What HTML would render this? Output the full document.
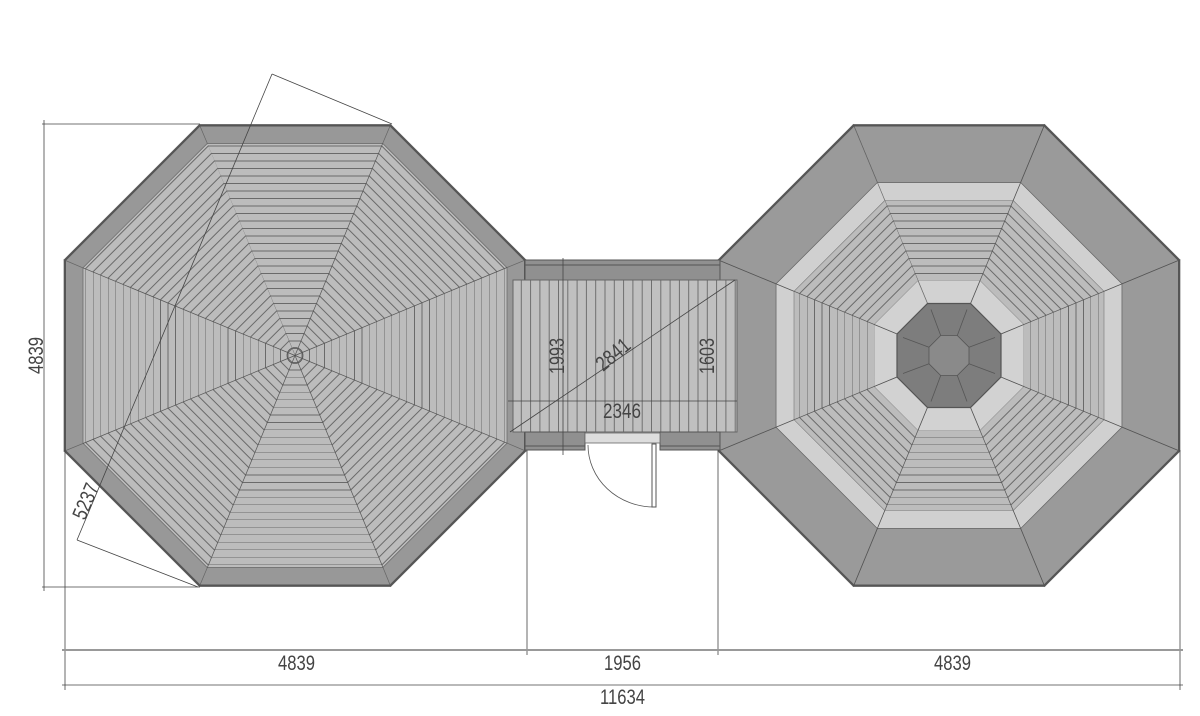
<!DOCTYPE html>
<html><head><meta charset="utf-8"><style>
html,body{margin:0;padding:0;background:#fff;}
svg{display:block;}
text{font-family:"Liberation Sans",sans-serif;fill:#444;font-size:21px;}
</style></head><body>
<svg width="1200" height="716" viewBox="0 0 1200 716" xmlns="http://www.w3.org/2000/svg">
<defs>
<pattern id="st" patternUnits="userSpaceOnUse" width="20" height="7.5">
<rect width="20" height="7.5" fill="#bcbcbc"/>
<line x1="0" y1="0.5" x2="20" y2="0.5" stroke="#6a6a6a" stroke-width="0.9"/>
</pattern>
<pattern id="vst" patternUnits="userSpaceOnUse" width="9.3" height="20">
<rect width="9.3" height="20" fill="#c0c0c0"/>
<line x1="0.5" y1="0" x2="0.5" y2="20" stroke="#666" stroke-width="0.9"/>
</pattern>
<g id="secL">
<polygon points="0,0 -88,-212 88,-212" fill="url(#st)"/>
<polygon points="-88,-212 88,-212 95.7,-231 -95.7,-231" fill="#989898" stroke="#666" stroke-width="0.7"/>
<line x1="-95.7" y1="-230" x2="95.7" y2="-230" stroke="#555" stroke-width="2"/>
<line x1="0" y1="0" x2="-88" y2="-212" stroke="#555" stroke-width="0.7"/>
</g>
<g id="secR">
<polygon points="-21.5,-52 21.5,-52 31,-75 -31,-75" fill="#d2d2d2" stroke="#777" stroke-width="0.6"/>
<polygon points="-31,-75 31,-75 64.2,-155 -64.2,-155" fill="url(#st)"/>
<polygon points="-64.2,-155 64.2,-155 71.7,-173 -71.7,-173" fill="#d0d0d0" stroke="#777" stroke-width="0.6"/>
<polygon points="-71.7,-173 71.7,-173 95.7,-231 -95.7,-231" fill="#9a9a9a" stroke="#666" stroke-width="0.7"/>
<line x1="-95.7" y1="-230" x2="95.7" y2="-230" stroke="#555" stroke-width="2"/>
<line x1="-21.5" y1="-52" x2="-95.7" y2="-231" stroke="#555" stroke-width="0.7"/>
</g>
</defs>

<g transform="translate(295,355.5)">
<use href="#secL"/>
<use href="#secL" transform="rotate(45)"/>
<use href="#secL" transform="rotate(90)"/>
<use href="#secL" transform="rotate(135)"/>
<use href="#secL" transform="rotate(180)"/>
<use href="#secL" transform="rotate(225)"/>
<use href="#secL" transform="rotate(270)"/>
<use href="#secL" transform="rotate(315)"/>
<circle r="8" fill="none" stroke="#555" stroke-width="0.8"/>
</g>

<g transform="translate(949,355.5)">
<use href="#secR"/>
<use href="#secR" transform="rotate(45)"/>
<use href="#secR" transform="rotate(90)"/>
<use href="#secR" transform="rotate(135)"/>
<use href="#secR" transform="rotate(180)"/>
<use href="#secR" transform="rotate(225)"/>
<use href="#secR" transform="rotate(270)"/>
<use href="#secR" transform="rotate(315)"/>
<polygon points="-21.5,-52 21.5,-52 52,-21.5 52,21.5 21.5,52 -21.5,52 -52,21.5 -52,-21.5" fill="#7d7d7d" stroke="#555" stroke-width="1.2"/>
<polygon points="-8.3,-20 8.3,-20 20,-8.3 20,8.3 8.3,20 -8.3,20 -20,8.3 -20,-8.3" fill="#8a8a8a" stroke="#555" stroke-width="0.8"/>
<g stroke="#555" stroke-width="0.8">
<line x1="-8.3" y1="-20" x2="-18" y2="-46"/><line x1="8.3" y1="-20" x2="18" y2="-46"/>
<line x1="20" y1="-8.3" x2="46" y2="-18"/><line x1="20" y1="8.3" x2="46" y2="18"/>
<line x1="8.3" y1="20" x2="18" y2="46"/><line x1="-8.3" y1="20" x2="-18" y2="46"/>
<line x1="-20" y1="8.3" x2="-46" y2="18"/><line x1="-20" y1="-8.3" x2="-46" y2="-18"/>
</g>
</g>

<rect x="525" y="260" width="195" height="20" fill="#909090" stroke="#555" stroke-width="1"/>
<line x1="525" y1="265" x2="720" y2="265" stroke="#555" stroke-width="1"/>
<rect x="513" y="280" width="224" height="152" fill="url(#vst)" stroke="#666" stroke-width="1"/>
<rect x="525" y="432" width="60" height="18" fill="#909090" stroke="#555" stroke-width="1"/>
<rect x="660" y="432" width="60" height="18" fill="#909090" stroke="#555" stroke-width="1"/>
<line x1="525" y1="446" x2="585" y2="446" stroke="#555"/><line x1="660" y1="446" x2="720" y2="446" stroke="#555"/>
<rect x="585" y="433" width="75" height="10" fill="#ddd" stroke="#666" stroke-width="0.8"/>
<rect x="652" y="444" width="4" height="63" fill="#fff" stroke="#555" stroke-width="1"/>
<path d="M588,445 A66,62 0 0 0 654,507" fill="none" stroke="#555" stroke-width="0.8"/>

<g stroke="#444" stroke-width="0.8" fill="none">
<line x1="42" y1="124" x2="200" y2="124"/>
<line x1="42" y1="587" x2="200" y2="587"/>
<line x1="44" y1="120" x2="44" y2="591"/>
<line x1="65" y1="450" x2="65" y2="690"/>
<line x1="527" y1="450" x2="527" y2="655"/>
<line x1="718" y1="450" x2="718" y2="655"/>
<line x1="1180" y1="450" x2="1180" y2="690"/>
<line x1="62" y1="650" x2="1183" y2="650" stroke="#999" stroke-width="2"/>
<line x1="62" y1="685" x2="1183" y2="685"/>
<line x1="272" y1="74" x2="392" y2="124"/>
<line x1="272" y1="74" x2="77" y2="540"/>
<line x1="77" y1="540" x2="198" y2="587"/>
<line x1="563" y1="258" x2="563" y2="455"/>
<line x1="508" y1="401" x2="737" y2="401"/>
<line x1="510" y1="432" x2="735" y2="280"/>
</g>
<text x="278" y="670" textLength="37" lengthAdjust="spacingAndGlyphs">4839</text>
<text x="604" y="670" textLength="37" lengthAdjust="spacingAndGlyphs">1956</text>
<text x="934" y="670" textLength="37" lengthAdjust="spacingAndGlyphs">4839</text>
<text x="600" y="704" textLength="45" lengthAdjust="spacingAndGlyphs">11634</text>
<text transform="translate(43,374) rotate(-90)" textLength="37" lengthAdjust="spacingAndGlyphs">4839</text>
<text transform="translate(85,521) rotate(-67)" textLength="37" lengthAdjust="spacingAndGlyphs">5237</text>
<text transform="translate(564,374) rotate(-90)" textLength="36" lengthAdjust="spacingAndGlyphs">1993</text>
<text transform="translate(714,374) rotate(-90)" textLength="36" lengthAdjust="spacingAndGlyphs">1603</text>
<text x="603" y="418" textLength="38" lengthAdjust="spacingAndGlyphs">2346</text>
<text transform="translate(603,372) rotate(-40)" textLength="38" lengthAdjust="spacingAndGlyphs">2841</text>
</svg>
</body></html>
